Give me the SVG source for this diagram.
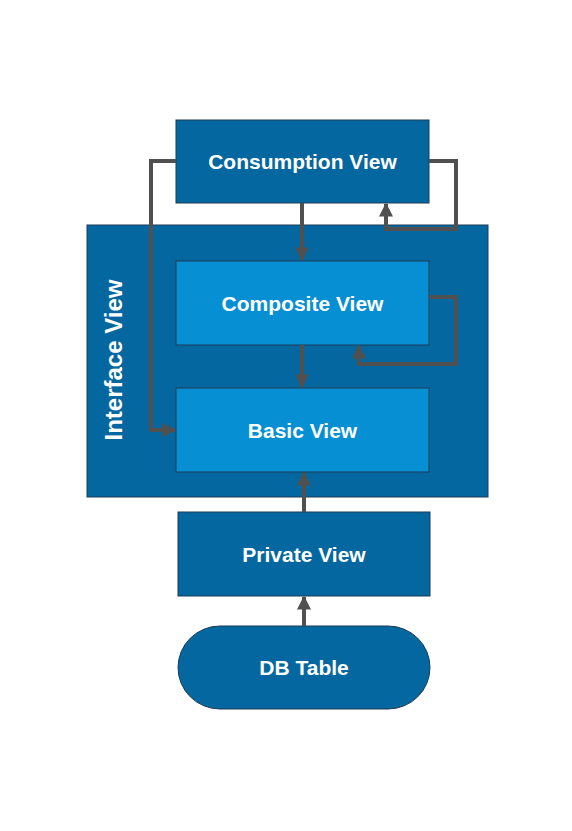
<svg xmlns="http://www.w3.org/2000/svg" width="572" height="831" viewBox="0 0 572 831">
<style>
.dark{fill:#05679f;stroke:#1d3a55;stroke-width:1}
.light{fill:#078fd3;stroke:#1d3a55;stroke-width:1}
.lbl{font-family:"Liberation Sans",Arial,sans-serif;font-weight:bold;font-size:21px;fill:#ffffff;text-anchor:middle;dominant-baseline:central}
.conn{fill:none;stroke:#505050;stroke-width:4;stroke-linejoin:miter}
</style>
<defs>
<marker id="arr" viewBox="0 0 10 10" refX="9" refY="5" markerWidth="3.5" markerHeight="3.5" orient="auto" markerUnits="strokeWidth">
<path d="M0,0 L10,5 L0,10 z" fill="#505050"/>
</marker>
</defs>
<rect width="572" height="831" fill="#ffffff"/>
<g id="interface-view">
<rect class="dark" x="87" y="225" width="401" height="272"/>
<text class="lbl" transform="translate(113,360) rotate(-90)" style="font-size:24px">Interface View</text>
</g>
<g id="consumption-view">
<rect class="dark" x="176" y="120" width="253" height="83"/>
<text class="lbl" x="302.5" y="161.5">Consumption View</text>
</g>
<g id="composite-view">
<rect class="light" x="176" y="261" width="253" height="84"/>
<text class="lbl" x="302.5" y="303">Composite View</text>
</g>
<g id="basic-view">
<rect class="light" x="176" y="388" width="253" height="84"/>
<text class="lbl" x="302.5" y="430">Basic View</text>
</g>
<g id="private-view">
<rect class="dark" x="178" y="512" width="252" height="84"/>
<text class="lbl" x="304" y="554">Private View</text>
</g>
<g id="db-table">
<rect class="dark" x="178" y="626" width="252" height="83" rx="42" ry="42"/>
<text class="lbl" x="304" y="667">DB Table</text>
</g>
<g id="connectors">
<path class="conn" d="M302,203 L302,260" marker-end="url(#arr)"/>
<path class="conn" d="M176,161 L151,161 L151,430 L175,430" marker-end="url(#arr)"/>
<path class="conn" d="M429,161 L456,161 L456,229 L386,229 L386,204" marker-end="url(#arr)"/>
<path class="conn" d="M429,297 L456,297 L456,364 L359,364 L359,346" marker-end="url(#arr)"/>
<path class="conn" d="M302,345 L302,387" marker-end="url(#arr)"/>
<path class="conn" d="M304,512 L304,473" marker-end="url(#arr)"/>
<path class="conn" d="M304,626 L304,597" marker-end="url(#arr)"/>
</g>
</svg>
